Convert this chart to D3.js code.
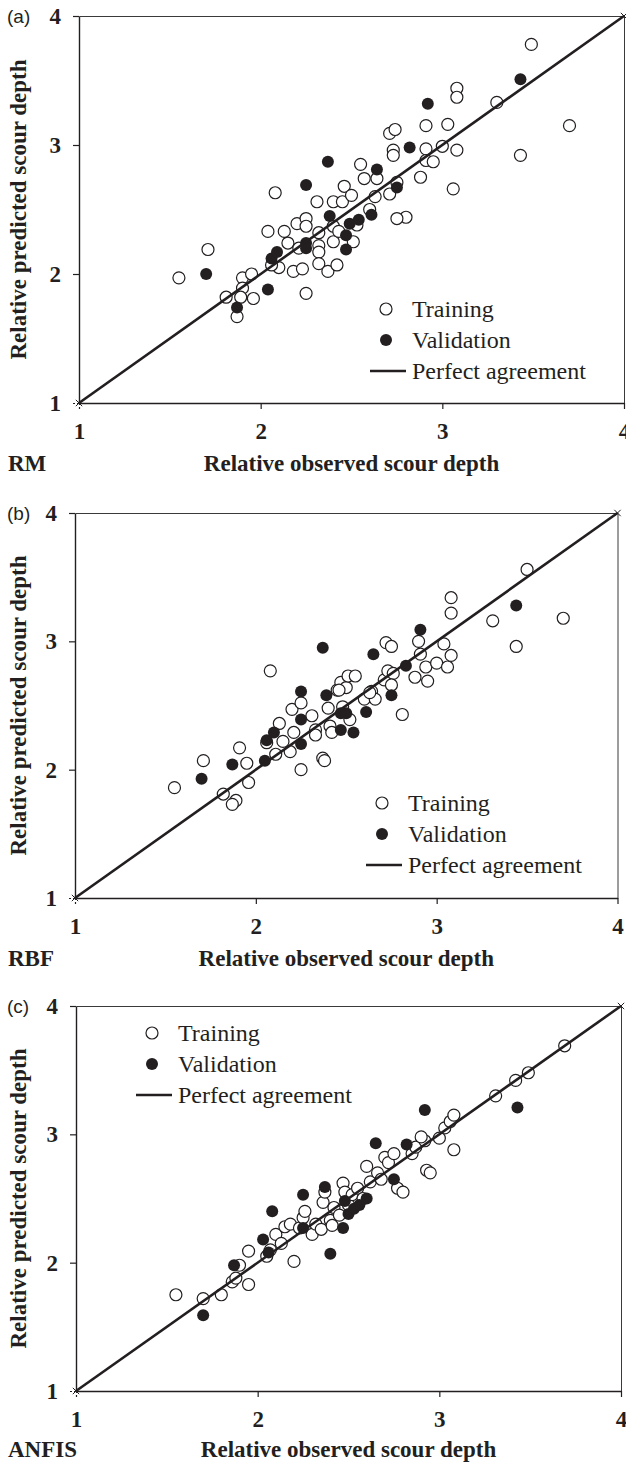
<!DOCTYPE html>
<html>
<head>
<meta charset="utf-8">
<script src="https://cdn.jsdelivr.net/npm/d3@7"></script>
<style>
  body { margin: 0; background: #fff; }
  svg text { fill: #231f20; }
</style>
</head>
<body>
<div id="chart"></div>
<script>
// axis ticks shared by all three panels
const ticks = [1, 2, 3, 4];
const panelLetters = ["(a)", "(b)", "(c)"];
const modelNames = ["RM", "RBF", "ANFIS"];
const legendLabels = ["Training", "Validation", "Perfect agreement"];
const xTitle = "Relative observed scour depth";
const yTitle = "Relative predicted scour depth";
const agreement = [1, 4];

// (a) RM  [observed, predicted]
const rmTraining = [
  [1.55,1.97],[1.71,2.19],[1.81,1.82],[1.90,1.97],[1.95,2.00],[1.90,1.89],[1.89,1.82],[1.96,1.81],[1.87,1.67],
  [2.08,2.63],[2.04,2.33],[2.10,2.05],[2.06,2.07],[2.13,2.33],[2.15,2.24],[2.18,2.02],[2.23,2.04],[2.25,1.85],
  [2.20,2.39],[2.25,2.43],[2.25,2.37],[2.21,2.20],[2.31,2.56],[2.32,2.32],[2.32,2.22],[2.32,2.17],[2.32,2.08],
  [2.37,2.02],[2.40,2.56],[2.40,2.37],[2.40,2.25],[2.42,2.07],[2.45,2.56],[2.46,2.68],[2.50,2.61],[2.51,2.25],
  [2.55,2.85],[2.57,2.74],[2.60,2.50],[2.64,2.74],[2.71,2.62],[2.71,3.09],[2.74,3.12],[2.73,2.96],[2.73,2.92],
  [2.75,2.71],[2.80,2.44],[2.75,2.43],[2.88,2.75],[2.91,3.15],[2.91,2.97],[2.91,2.88],[2.95,2.87],[3.00,2.99],
  [3.03,3.16],[3.08,2.96],[3.06,2.66],[3.08,3.44],[3.08,3.37],[3.30,3.33],[3.43,2.92],[3.49,3.78],[3.70,3.15],
  [2.63,2.60],[2.43,2.33],[2.53,2.38]
];
const rmValidation = [
  [1.70,2.00],[1.87,1.74],[2.04,1.88],[2.06,2.12],[2.09,2.17],[2.25,2.69],[2.25,2.24],[2.25,2.20],[2.37,2.87],[2.38,2.45],
  [2.47,2.30],[2.47,2.19],[2.49,2.39],[2.54,2.42],[2.61,2.46],[2.64,2.81],[2.75,2.67],[2.82,2.98],[2.92,3.32],[3.43,3.51]
];

// (b) RBF
const rbfTraining = [
  [1.55,1.86],[1.71,2.07],[1.82,1.81],[1.91,2.17],[1.95,2.05],[1.96,1.90],[1.89,1.76],[1.87,1.73],
  [2.08,2.77],[2.11,2.12],[2.13,2.36],[2.15,2.22],[2.19,2.14],[2.21,2.29],[2.20,2.47],[2.25,2.00],[2.25,2.52],
  [2.31,2.42],[2.33,2.31],[2.33,2.27],[2.37,2.09],[2.38,2.07],[2.40,2.48],[2.41,2.34],[2.42,2.29],[2.45,2.62],
  [2.47,2.68],[2.48,2.49],[2.50,2.64],[2.51,2.73],[2.55,2.73],[2.52,2.39],[2.60,2.55],[2.64,2.61],[2.66,2.55],
  [2.63,2.60],[2.46,2.62],[2.71,2.70],[2.73,2.77],[2.76,2.75],[2.75,2.66],[2.72,2.99],[2.75,2.96],[2.81,2.43],
  [2.88,2.72],[2.90,3.00],[2.91,2.90],[2.94,2.80],[2.95,2.69],[3.00,2.83],[3.04,2.98],[3.06,2.80],[3.08,2.89],
  [3.08,3.34],[3.08,3.22],[3.31,3.16],[3.44,2.96],[3.50,3.56],[3.70,3.18],[2.06,2.21]
];
const rbfValidation = [
  [1.70,1.93],[1.87,2.04],[2.05,2.07],[2.06,2.23],[2.10,2.29],[2.25,2.20],[2.25,2.61],[2.25,2.39],[2.37,2.95],[2.39,2.58],
  [2.47,2.44],[2.47,2.31],[2.50,2.44],[2.54,2.29],[2.61,2.45],[2.65,2.90],[2.75,2.58],[2.83,2.81],[2.91,3.09],[3.44,3.28]
];

// (c) ANFIS
const anfisTraining = [
  [1.55,1.75],[1.70,1.72],[1.80,1.75],[1.86,1.85],[1.88,1.88],[1.90,1.98],[1.95,1.83],[1.95,2.09],[2.05,2.05],
  [2.07,2.10],[2.10,2.22],[2.13,2.15],[2.15,2.28],[2.18,2.30],[2.20,2.01],[2.23,2.27],[2.25,2.35],[2.26,2.40],
  [2.30,2.22],[2.32,2.30],[2.35,2.26],[2.36,2.47],[2.37,2.55],[2.40,2.33],[2.41,2.29],[2.42,2.43],[2.45,2.37],
  [2.47,2.62],[2.48,2.55],[2.50,2.45],[2.52,2.53],[2.55,2.58],[2.58,2.50],[2.60,2.75],[2.62,2.63],[2.66,2.70],
  [2.68,2.65],[2.70,2.82],[2.72,2.78],[2.75,2.85],[2.77,2.58],[2.80,2.55],[2.85,2.85],[2.87,2.90],[2.92,2.95],
  [2.93,2.72],[2.95,2.70],[3.00,2.97],[3.03,3.05],[3.06,3.10],[3.08,3.15],[3.08,2.88],[3.31,3.30],[3.42,3.42],
  [3.49,3.48],[3.69,3.69],[2.90,2.98]
];
const anfisValidation = [
  [1.70,1.59],[1.87,1.98],[2.06,2.08],[2.08,2.40],[2.03,2.18],[2.25,2.53],[2.25,2.27],[2.37,2.59],[2.40,2.07],[2.47,2.27],
  [2.48,2.48],[2.50,2.38],[2.53,2.42],[2.60,2.50],[2.65,2.93],[2.75,2.65],[2.82,2.92],[2.92,3.19],[3.43,3.21],[2.56,2.45]
];

const training = [rmTraining, rbfTraining, anfisTraining];
const validation = [rmValidation, rbfValidation, anfisValidation];

// pixel frame of each panel and where its legend sits
const frames = [
  { left: 79, right: 624, top: 16, bottom: 403, legendX: 386, legendY: 309, titleGap: 68 },
  { left: 75, right: 617.5, top: 513, bottom: 898, legendX: 382, legendY: 803, titleGap: 68 },
  { left: 76, right: 621, top: 1006, bottom: 1391, legendX: 152, legendY: 1033, titleGap: 66 }
];
const legendStep = 31;

const serif = "'Liberation Serif', 'Times New Roman', 'DejaVu Serif', serif";
const ink = "#231f20";

const svg = d3.select("#chart").append("svg")
  .attr("width", 626)
  .attr("height", 1466)
  .style("display", "block");

svg.append("rect").attr("width", 626).attr("height", 1466).attr("fill", "#fff");

frames.forEach((f, i) => {
  const x = d3.scaleLinear().domain([1, 4]).range([f.left, f.right]);
  const y = d3.scaleLinear().domain([1, 4]).range([f.bottom, f.top]);
  const g = svg.append("g");

  // thin top and right border
  const border = g.append("g").attr("class", "border");
  border.append("g").attr("transform", `translate(0,${f.top})`)
    .call(d3.axisTop(x).tickValues([]).tickSizeOuter(0));
  border.append("g").attr("transform", `translate(${f.right},0)`)
    .call(d3.axisRight(y).tickValues([]).tickSizeOuter(0));
  border.selectAll(".domain").attr("stroke", "#3a3a3a").attr("stroke-width", 1);

  const xAxis = g.append("g").attr("transform", `translate(0,${f.bottom})`)
    .call(d3.axisBottom(x).tickValues(ticks).tickSize(6).tickSizeOuter(0).tickPadding(14).tickFormat(d3.format("d")));
  const yAxis = g.append("g").attr("transform", `translate(${f.left},0)`)
    .call(d3.axisLeft(y).tickValues(ticks).tickSize(6).tickSizeOuter(0).tickPadding(12).tickFormat(d3.format("d")));

  [xAxis, yAxis].forEach(ax => {
    ax.select(".domain").attr("stroke", ink).attr("stroke-width", 1.4);
    ax.selectAll(".tick line").attr("stroke", ink).attr("stroke-width", 1.2);
    ax.selectAll(".tick").filter(d => d === 1).select("line").attr("stroke-dasharray", "2,2");
    ax.selectAll("text")
      .attr("fill", ink)
      .style("font-family", serif)
      .style("font-size", "23px")
      .style("font-weight", "bold");
  });

  // training (open) and validation (filled) points
  g.append("g").selectAll("circle")
    .data(training[i])
    .join("circle")
    .attr("cx", d => x(d[0]))
    .attr("cy", d => y(d[1]))
    .attr("r", 6)
    .attr("fill", "#fff")
    .attr("stroke", ink)
    .attr("stroke-width", 1.2);

  g.append("g").selectAll("circle")
    .data(validation[i])
    .join("circle")
    .attr("cx", d => x(d[0]))
    .attr("cy", d => y(d[1]))
    .attr("r", 6)
    .attr("fill", ink);

  // perfect agreement line with x markers at ends
  g.append("path")
    .datum(agreement.map(v => [v, v]))
    .attr("d", d3.line().x(d => x(d[0])).y(d => y(d[1])))
    .attr("fill", "none")
    .attr("stroke", ink)
    .attr("stroke-width", 2.6);
  g.selectAll(".endmark")
    .data(agreement)
    .join("path")
    .attr("transform", v => `translate(${x(v)},${y(v)})`)
    .attr("d", d3.symbol(d3.symbolTimes, 28))
    .attr("fill", "none")
    .attr("stroke", ink)
    .attr("stroke-width", 1);

  // legend
  const lg = g.append("g").attr("transform", `translate(${f.legendX},${f.legendY})`);
  lg.append("circle").attr("r", 6).attr("fill", "#fff").attr("stroke", ink).attr("stroke-width", 1.2);
  lg.append("circle").attr("cy", legendStep).attr("r", 6).attr("fill", ink);
  lg.append("line").attr("x1", -16).attr("x2", 20).attr("y1", 2 * legendStep).attr("y2", 2 * legendStep)
    .attr("stroke", ink).attr("stroke-width", 2.6);
  lg.selectAll("text")
    .data(legendLabels)
    .join("text")
    .attr("x", 26)
    .attr("y", (d, k) => k * legendStep)
    .attr("dy", "0.35em")
    .style("font-family", serif)
    .style("font-size", "24px")
    .text(d => d);

  // titles
  g.append("text")
    .attr("transform", `translate(18,${(f.top + f.bottom) / 2}) rotate(-90)`)
    .attr("text-anchor", "middle")
    .attr("dy", "0.35em")
    .style("font-family", serif)
    .style("font-size", "23px")
    .style("font-weight", "bold")
    .text(yTitle);

  g.append("text")
    .attr("x", (f.left + f.right) / 2)
    .attr("y", f.bottom + f.titleGap)
    .attr("text-anchor", "middle")
    .style("font-family", serif)
    .style("font-size", "23px")
    .style("font-weight", "bold")
    .text(xTitle);

  g.append("text")
    .attr("x", 8)
    .attr("y", f.bottom + f.titleGap)
    .style("font-family", serif)
    .style("font-size", "23px")
    .style("font-weight", "bold")
    .text(modelNames[i]);

  g.append("text")
    .attr("x", 7)
    .attr("y", f.top)
    .attr("dy", "0.36em")
    .style("font-family", "'Liberation Sans', Arial, sans-serif")
    .style("font-size", "19px")
    .text(panelLetters[i]);
});
</script>
</body>
</html>
